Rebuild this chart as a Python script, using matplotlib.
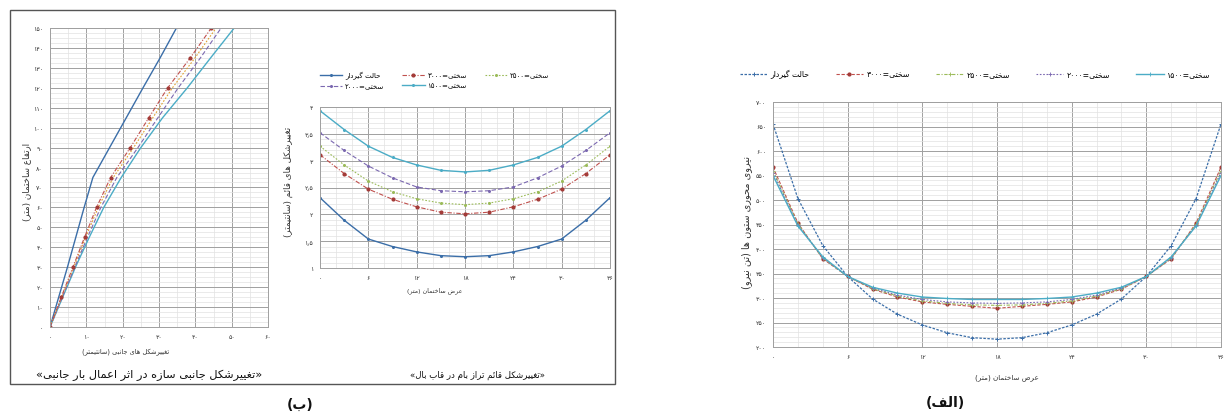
import re
import matplotlib
matplotlib.use("Agg")
import matplotlib.pyplot as plt
from matplotlib.patches import Rectangle
from matplotlib.ticker import MultipleLocator, FuncFormatter

plt.rcParams['font.family'] = ['DejaVu Sans']

# lateral deflection (cm) against building height (m)
height = [0, 15, 30, 45, 60, 75, 90, 105, 120, 135, 150]
lat_fixed = [0, 2.4, 4.8, 7.1, 9.4, 11.8, 16.4, 21.0, 25.6, 30.3, 34.8]
lat_3000 = [0, 3.1, 6.3, 9.5, 12.8, 16.7, 22.1, 27.2, 32.4, 38.6, 44.4]
lat_2500 = [0, 3.2, 6.5, 9.8, 13.3, 17.4, 23.0, 28.3, 33.7, 39.9, 45.7]
lat_2000 = [0, 3.4, 6.8, 10.3, 14.0, 18.4, 24.2, 29.7, 35.3, 41.4, 47.1]
lat_1500 = [0, 3.5, 7.0, 10.8, 14.8, 19.6, 25.0, 31.0, 37.8, 44.2, 50.7]

# roof vertical deflection (cm) across the flange frame
roof_x = [0, 3, 6, 9, 12, 15, 18, 21, 24, 27, 30, 33, 36]
roof_fixed = [2.31, 1.89, 1.54, 1.40, 1.30, 1.23, 1.21, 1.23, 1.30, 1.40, 1.54, 1.89, 2.31]
roof_3000 = [3.11, 2.76, 2.47, 2.28, 2.14, 2.04, 2.01, 2.04, 2.14, 2.28, 2.47, 2.76, 3.11]
roof_2500 = [3.27, 2.92, 2.62, 2.42, 2.29, 2.21, 2.18, 2.21, 2.29, 2.42, 2.62, 2.92, 3.27]
roof_2000 = [3.52, 3.19, 2.90, 2.68, 2.51, 2.44, 2.42, 2.44, 2.51, 2.68, 2.90, 3.19, 3.52]
roof_1500 = [3.93, 3.58, 3.27, 3.06, 2.92, 2.82, 2.79, 2.82, 2.92, 3.06, 3.27, 3.58, 3.93]

# column axial force (tonf) across the building width
col_x = [0, 2, 4, 6, 8, 10, 12, 14, 16, 18, 20, 22, 24, 26, 28, 30, 32, 34, 36]
col_fixed = [655, 503, 407, 344, 298, 267, 245, 229, 219, 216,
             219, 229, 245, 267, 298, 344, 407, 503, 655]
col_3000 = [567, 453, 380, 344, 318, 302, 292, 287, 283, 279,
            283, 287, 292, 302, 318, 344, 380, 453, 567]
col_2500 = [560, 451, 381, 344, 319, 304, 294, 289, 286, 285,
            286, 289, 294, 304, 319, 344, 381, 451, 560]
col_2000 = [556, 449, 382, 344, 320, 306, 297, 292, 290, 289,
            290, 292, 297, 306, 320, 344, 382, 449, 556]
col_1500 = [550, 447, 384, 344, 322, 310, 302, 299, 297, 297,
            297, 299, 302, 310, 322, 344, 384, 447, 550]

labels = ["حالت گیردار", "سختی=۳۰۰۰", "سختی=۲۵۰۰", "سختی=۲۰۰۰", "سختی=۱۵۰۰"]

C_FIX = "#3b6ea8"
C_3000 = "#c0504d"
C_2500 = "#9bbb59"
C_2000 = "#7b68b0"
C_1500 = "#4bacc6"

# ---- minimal Persian shaping: (isolated, final, initial, medial)
FORMS = {
    "\u0627": ("\uFE8D", "\uFE8E", None, None),
    "\u0628": ("\uFE8F", "\uFE90", "\uFE91", "\uFE92"),
    "\u062A": ("\uFE95", "\uFE96", "\uFE97", "\uFE98"),
    "\u062B": ("\uFE99", "\uFE9A", "\uFE9B", "\uFE9C"),
    "\u062C": ("\uFE9D", "\uFE9E", "\uFE9F", "\uFEA0"),
    "\u062D": ("\uFEA1", "\uFEA2", "\uFEA3", "\uFEA4"),
    "\u062E": ("\uFEA5", "\uFEA6", "\uFEA7", "\uFEA8"),
    "\u062F": ("\uFEA9", "\uFEAA", None, None),
    "\u0631": ("\uFEAD", "\uFEAE", None, None),
    "\u0632": ("\uFEAF", "\uFEB0", None, None),
    "\u0633": ("\uFEB1", "\uFEB2", "\uFEB3", "\uFEB4"),
    "\u0634": ("\uFEB5", "\uFEB6", "\uFEB7", "\uFEB8"),
    "\u0639": ("\uFEC9", "\uFECA", "\uFECB", "\uFECC"),
    "\u063A": ("\uFECD", "\uFECE", "\uFECF", "\uFED0"),
    "\u0641": ("\uFED1", "\uFED2", "\uFED3", "\uFED4"),
    "\u0642": ("\uFED5", "\uFED6", "\uFED7", "\uFED8"),
    "\u0644": ("\uFEDD", "\uFEDE", "\uFEDF", "\uFEE0"),
    "\u0645": ("\uFEE1", "\uFEE2", "\uFEE3", "\uFEE4"),
    "\u0646": ("\uFEE5", "\uFEE6", "\uFEE7", "\uFEE8"),
    "\u0647": ("\uFEE9", "\uFEEA", "\uFEEB", "\uFEEC"),
    "\u0648": ("\uFEED", "\uFEEE", None, None),
    "\u0626": ("\uFE89", "\uFE8A", "\uFE8B", "\uFE8C"),
    "\u06CC": ("\uFBFC", "\uFBFD", "\uFBFE", "\uFBFF"),
    "\u06A9": ("\uFB8E", "\uFB8F", "\uFB90", "\uFB91"),
    "\u06AF": ("\uFB92", "\uFB93", "\uFB94", "\uFB95"),
}
MIRROR = {"(": ")", ")": "(", "«": "»", "»": "«"}


def fa(text):
    out = []
    for i, ch in enumerate(text):
        f = FORMS.get(ch)
        if f is None:
            out.append(ch)
            continue
        pf = FORMS.get(text[i - 1]) if i > 0 else None
        nf = FORMS.get(text[i + 1]) if i < len(text) - 1 else None
        jp = pf is not None and pf[2] is not None
        jn = f[2] is not None and nf is not None
        if jp and jn:
            out.append(f[3])
        elif jp:
            out.append(f[1])
        elif jn:
            out.append(f[2])
        else:
            out.append(f[0])
    tokens = re.findall(r"[۰-۹٫]+|.", "".join(out))
    return "".join(MIRROR.get(t, t) for t in reversed(tokens))


def fa_num(v, pos=None):
    s = ("%g" % v)
    return s.translate(str.maketrans("0123456789.-", "۰۱۲۳۴۵۶۷۸۹٫-"))


W, H = 1225, 414
fig = plt.figure(figsize=(W / 100, H / 100), dpi=100)


def px(x, y):
    return x / W, 1 - y / H


def style_axes(ax, xmaj, xmin, ymaj, ymin):
    ax.xaxis.set_major_locator(MultipleLocator(xmaj))
    ax.xaxis.set_minor_locator(MultipleLocator(xmin))
    ax.yaxis.set_major_locator(MultipleLocator(ymaj))
    ax.yaxis.set_minor_locator(MultipleLocator(ymin))
    ax.xaxis.set_major_formatter(FuncFormatter(fa_num))
    ax.yaxis.set_major_formatter(FuncFormatter(fa_num))
    ax.grid(which="major", color="#a0a0a0", lw=0.7)
    ax.grid(which="minor", color="#e2e2e2", lw=0.5)
    ax.set_axisbelow(True)
    ax.tick_params(which="both", length=0, labelsize=4.5, colors="#333333", pad=5)
    for s in ax.spines.values():
        s.set_color("#a0a0a0")
        s.set_linewidth(0.7)


# left panel frame
fig.patches.append(Rectangle(px(10, 385), 605 / W, 374 / H, transform=fig.transFigure,
                             fill=False, ec="#555555", lw=1.0))

# ---- lateral deflection
ax1 = fig.add_axes([*px(50, 328), 218 / W, 299 / H])
ax1.plot(lat_fixed, height, color=C_FIX, lw=1.0)
ax1.plot(lat_1500, height, color=C_1500, lw=1.0)
ax1.plot(lat_2000, height, color=C_2000, lw=0.8, ls=(0, (4, 2)))
ax1.plot(lat_2500, height, color="#e0a030", lw=0.8, ls=(0, (1.5, 1.5)))
ax1.plot(lat_3000, height, color=C_3000, lw=0.8, ls=(0, (4, 1.5, 1, 1.5)),
         marker="o", ms=2, mfc="#a33b38", mec="#a33b38")
ax1.set_xlim(0, 60)
ax1.set_ylim(0, 150)
style_axes(ax1, 10, 5, 10, 2.5)
fig.text(*px(27, 182), fa("ارتفاع ساختمان (متر)"), rotation=90, ha="center", va="center",
         fontsize=6.3, color="#333333")
fig.text(*px(126, 352), fa("تغییرشکل های جانبی (سانتیمتر)"), ha="center", va="center",
         fontsize=4.8, color="#333333")
fig.text(*px(149, 375), fa("«تغییرشکل جانبی سازه در اثر اعمال بار جانبی»"), ha="center",
         va="center", fontsize=8.2, color="#111111")

# ---- roof vertical deflection
ax2 = fig.add_axes([*px(320, 269), 290 / W, 161 / H])
h_fix, = ax2.plot(roof_x, roof_fixed, color=C_FIX, lw=1.0, marker="o", ms=1.2)
h30, = ax2.plot(roof_x, roof_3000, color=C_3000, lw=0.8, ls=(0, (4, 1.5, 1, 1.5)),
                marker="o", ms=2, mfc="#a33b38", mec="#a33b38")
h25, = ax2.plot(roof_x, roof_2500, color=C_2500, lw=0.8, ls=(0, (1.5, 1.5)),
                marker="o", ms=1.2)
h20, = ax2.plot(roof_x, roof_2000, color=C_2000, lw=0.8, ls=(0, (4, 2)),
                marker="o", ms=1.2)
h15, = ax2.plot(roof_x, roof_1500, color=C_1500, lw=1.0, marker="o", ms=1.2)
ax2.set_xlim(0, 36)
ax2.set_ylim(1, 4)
style_axes(ax2, 6, 2, 0.5, 0.1)
hs = [h_fix, h30, h25, h20, h15]
order = [0, 3, 1, 4, 2]
ax2.legend([hs[i] for i in order], [fa(labels[i]) for i in order], ncol=3,
           loc="lower left", bbox_to_anchor=(0.0, 1.11), frameon=False, fontsize=5,
           handlelength=3.2, columnspacing=2.6, handletextpad=0.4, labelspacing=0.6,
           borderaxespad=0, borderpad=0)
fig.text(*px(288, 182), fa("تغییرشکل های قائم (سانتیمتر)"), rotation=90, ha="center",
         va="center", fontsize=6.3, color="#333333")
fig.text(*px(435, 291), fa("عرض ساختمان (متر)"), ha="center", va="center",
         fontsize=4.5, color="#333333")
fig.text(*px(477, 375), fa("«تغییرشکل قائم تراز بام در قاب بال»"), ha="center",
         va="center", fontsize=6.2, color="#111111")
fig.text(*px(300, 405), fa("(ب)"), ha="center", va="center", fontsize=10,
         fontweight="bold", color="#111111")

# ---- column axial force
ax3 = fig.add_axes([*px(773, 348), 448 / W, 245 / H])
g_fix, = ax3.plot(col_x, col_fixed, color=C_FIX, lw=0.9, ls=(0, (2, 1.2)),
                  marker="+", ms=3, mew=0.7)
g30, = ax3.plot(col_x, col_3000, color=C_3000, lw=0.8, ls=(0, (3, 1.5)),
                marker="o", ms=2, mfc="#a33b38", mec="#a33b38")
g25, = ax3.plot(col_x, col_2500, color=C_2500, lw=0.8, ls=(0, (3, 1.5, 1, 1.5)),
                marker="+", ms=2.5, mew=0.6)
g20, = ax3.plot(col_x, col_2000, color=C_2000, lw=0.8, ls=(0, (1.5, 1.5)),
                marker="+", ms=2.5, mew=0.6)
g15, = ax3.plot(col_x, col_1500, color=C_1500, lw=1.0, marker="+", ms=2.5, mew=0.6)
ax3.set_xlim(0, 36)
ax3.set_ylim(200, 700)
style_axes(ax3, 6, 2, 50, 10)
ax3.legend([g_fix, g30, g25, g20, g15], [fa(t) for t in labels], ncol=5,
           loc="center", bbox_to_anchor=(0.451, 1.114), frameon=False, fontsize=5.6,
           handlelength=3.5, columnspacing=3.4, handletextpad=0.4, borderaxespad=0,
           borderpad=0)
fig.text(*px(747, 222), fa("نیروی محوری ستون ها (تن نیرو)"), rotation=90, ha="center",
         va="center", fontsize=7, color="#333333")
fig.text(*px(1007, 378), fa("عرض ساختمان (متر)"), ha="center", va="center",
         fontsize=5.2, color="#333333")
fig.text(*px(945, 403), fa("(الف)"), ha="center", va="center", fontsize=10,
         fontweight="bold", color="#111111")

fig.savefig("out.png", dpi=100, facecolor="white")
